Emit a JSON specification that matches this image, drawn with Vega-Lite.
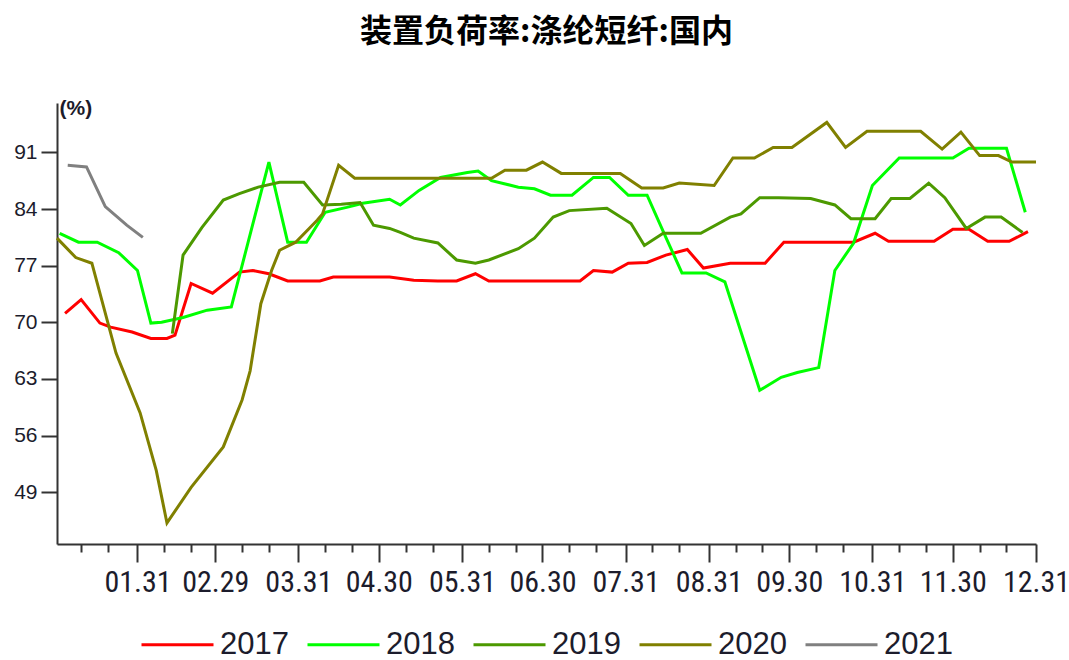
{
  "$schema": "https://vega.github.io/schema/vega-lite/v6.json",
  "width": 979,
  "height": 441,
  "autosize": "none",
  "padding": {"left": 57, "top": 103, "right": 33, "bottom": 116},
  "background": "white",
  "title": {"text": "装置负荷率:涤纶短纤:国内", "font": "Noto Sans CJK SC", "fontSize": 32, "fontWeight": "bold", "color": "#000000", "anchor": "middle", "offset": 48},
  "config": {"view": {"stroke": null}},
  "data": {"values": [
    {"date": "2017/01/04", "year": "2017", "value": 71.1},
    {"date": "2017/01/10", "year": "2017", "value": 72.8},
    {"date": "2017/01/17", "year": "2017", "value": 69.9},
    {"date": "2017/01/21", "year": "2017", "value": 69.4},
    {"date": "2017/01/29", "year": "2017", "value": 68.8},
    {"date": "2017/02/05", "year": "2017", "value": 68.0},
    {"date": "2017/02/11", "year": "2017", "value": 68.0},
    {"date": "2017/02/14", "year": "2017", "value": 68.4},
    {"date": "2017/02/20", "year": "2017", "value": 74.8},
    {"date": "2017/02/28", "year": "2017", "value": 73.6},
    {"date": "2017/03/09", "year": "2017", "value": 76.2},
    {"date": "2017/03/14", "year": "2017", "value": 76.4},
    {"date": "2017/03/20", "year": "2017", "value": 76.0},
    {"date": "2017/03/27", "year": "2017", "value": 75.1},
    {"date": "2017/04/08", "year": "2017", "value": 75.1},
    {"date": "2017/04/13", "year": "2017", "value": 75.6},
    {"date": "2017/04/30", "year": "2017", "value": 75.6},
    {"date": "2017/05/04", "year": "2017", "value": 75.6},
    {"date": "2017/05/13", "year": "2017", "value": 75.2},
    {"date": "2017/05/22", "year": "2017", "value": 75.1},
    {"date": "2017/05/29", "year": "2017", "value": 75.1},
    {"date": "2017/06/05", "year": "2017", "value": 76.0},
    {"date": "2017/06/10", "year": "2017", "value": 75.1},
    {"date": "2017/06/21", "year": "2017", "value": 75.1},
    {"date": "2017/07/03", "year": "2017", "value": 75.1},
    {"date": "2017/07/14", "year": "2017", "value": 75.1},
    {"date": "2017/07/19", "year": "2017", "value": 76.4},
    {"date": "2017/07/26", "year": "2017", "value": 76.2},
    {"date": "2017/08/01", "year": "2017", "value": 77.3},
    {"date": "2017/08/08", "year": "2017", "value": 77.4},
    {"date": "2017/08/15", "year": "2017", "value": 78.3},
    {"date": "2017/08/23", "year": "2017", "value": 79.0},
    {"date": "2017/08/29", "year": "2017", "value": 76.7},
    {"date": "2017/09/08", "year": "2017", "value": 77.3},
    {"date": "2017/09/21", "year": "2017", "value": 77.3},
    {"date": "2017/09/28", "year": "2017", "value": 79.9},
    {"date": "2017/10/24", "year": "2017", "value": 79.9},
    {"date": "2017/11/01", "year": "2017", "value": 81.0},
    {"date": "2017/11/06", "year": "2017", "value": 80.0},
    {"date": "2017/11/23", "year": "2017", "value": 80.0},
    {"date": "2017/11/30", "year": "2017", "value": 81.5},
    {"date": "2017/12/06", "year": "2017", "value": 81.5},
    {"date": "2017/12/13", "year": "2017", "value": 80.0},
    {"date": "2017/12/21", "year": "2017", "value": 80.0},
    {"date": "2017/12/28", "year": "2017", "value": 81.2},

    {"date": "2018/01/02", "year": "2018", "value": 81.0},
    {"date": "2018/01/09", "year": "2018", "value": 79.9},
    {"date": "2018/01/16", "year": "2018", "value": 79.9},
    {"date": "2018/01/24", "year": "2018", "value": 78.6},
    {"date": "2018/01/31", "year": "2018", "value": 76.4},
    {"date": "2018/02/05", "year": "2018", "value": 69.9},
    {"date": "2018/02/09", "year": "2018", "value": 70.0},
    {"date": "2018/02/17", "year": "2018", "value": 70.6},
    {"date": "2018/02/26", "year": "2018", "value": 71.5},
    {"date": "2018/03/06", "year": "2018", "value": 71.9},
    {"date": "2018/03/20", "year": "2018", "value": 89.8},
    {"date": "2018/03/27", "year": "2018", "value": 79.9},
    {"date": "2018/04/03", "year": "2018", "value": 79.9},
    {"date": "2018/04/10", "year": "2018", "value": 83.6},
    {"date": "2018/04/18", "year": "2018", "value": 84.2},
    {"date": "2018/04/24", "year": "2018", "value": 84.7},
    {"date": "2018/05/04", "year": "2018", "value": 85.2},
    {"date": "2018/05/08", "year": "2018", "value": 84.5},
    {"date": "2018/05/15", "year": "2018", "value": 86.3},
    {"date": "2018/05/23", "year": "2018", "value": 87.9},
    {"date": "2018/06/02", "year": "2018", "value": 88.5},
    {"date": "2018/06/06", "year": "2018", "value": 88.7},
    {"date": "2018/06/11", "year": "2018", "value": 87.5},
    {"date": "2018/06/21", "year": "2018", "value": 86.7},
    {"date": "2018/06/27", "year": "2018", "value": 86.5},
    {"date": "2018/07/03", "year": "2018", "value": 85.7},
    {"date": "2018/07/11", "year": "2018", "value": 85.7},
    {"date": "2018/07/19", "year": "2018", "value": 87.9},
    {"date": "2018/07/25", "year": "2018", "value": 87.9},
    {"date": "2018/08/01", "year": "2018", "value": 85.7},
    {"date": "2018/08/08", "year": "2018", "value": 85.7},
    {"date": "2018/08/15", "year": "2018", "value": 80.5},
    {"date": "2018/08/21", "year": "2018", "value": 76.1},
    {"date": "2018/08/30", "year": "2018", "value": 76.1},
    {"date": "2018/09/06", "year": "2018", "value": 75.0},
    {"date": "2018/09/19", "year": "2018", "value": 61.6},
    {"date": "2018/09/27", "year": "2018", "value": 63.2},
    {"date": "2018/10/03", "year": "2018", "value": 63.8},
    {"date": "2018/10/11", "year": "2018", "value": 64.4},
    {"date": "2018/10/17", "year": "2018", "value": 76.4},
    {"date": "2018/10/24", "year": "2018", "value": 79.8},
    {"date": "2018/10/31", "year": "2018", "value": 86.9},
    {"date": "2018/11/10", "year": "2018", "value": 90.3},
    {"date": "2018/11/30", "year": "2018", "value": 90.3},
    {"date": "2018/12/06", "year": "2018", "value": 91.5},
    {"date": "2018/12/20", "year": "2018", "value": 91.5},
    {"date": "2018/12/27", "year": "2018", "value": 83.6},

    {"date": "2019/02/13", "year": "2019", "value": 68.6},
    {"date": "2019/02/17", "year": "2019", "value": 78.3},
    {"date": "2019/02/24", "year": "2019", "value": 81.7},
    {"date": "2019/03/03", "year": "2019", "value": 85.1},
    {"date": "2019/03/09", "year": "2019", "value": 85.9},
    {"date": "2019/03/16", "year": "2019", "value": 86.7},
    {"date": "2019/03/24", "year": "2019", "value": 87.3},
    {"date": "2019/04/02", "year": "2019", "value": 87.3},
    {"date": "2019/04/09", "year": "2019", "value": 84.5},
    {"date": "2019/04/16", "year": "2019", "value": 84.6},
    {"date": "2019/04/23", "year": "2019", "value": 84.8},
    {"date": "2019/04/28", "year": "2019", "value": 82.0},
    {"date": "2019/05/04", "year": "2019", "value": 81.6},
    {"date": "2019/05/08", "year": "2019", "value": 81.1},
    {"date": "2019/05/13", "year": "2019", "value": 80.4},
    {"date": "2019/05/22", "year": "2019", "value": 79.8},
    {"date": "2019/05/29", "year": "2019", "value": 77.7},
    {"date": "2019/06/05", "year": "2019", "value": 77.3},
    {"date": "2019/06/10", "year": "2019", "value": 77.7},
    {"date": "2019/06/21", "year": "2019", "value": 79.1},
    {"date": "2019/06/27", "year": "2019", "value": 80.4},
    {"date": "2019/07/04", "year": "2019", "value": 83.0},
    {"date": "2019/07/10", "year": "2019", "value": 83.8},
    {"date": "2019/07/24", "year": "2019", "value": 84.1},
    {"date": "2019/08/02", "year": "2019", "value": 82.2},
    {"date": "2019/08/07", "year": "2019", "value": 79.5},
    {"date": "2019/08/14", "year": "2019", "value": 81.0},
    {"date": "2019/08/28", "year": "2019", "value": 81.0},
    {"date": "2019/09/08", "year": "2019", "value": 83.0},
    {"date": "2019/09/12", "year": "2019", "value": 83.4},
    {"date": "2019/09/19", "year": "2019", "value": 85.4},
    {"date": "2019/09/26", "year": "2019", "value": 85.4},
    {"date": "2019/10/08", "year": "2019", "value": 85.3},
    {"date": "2019/10/17", "year": "2019", "value": 84.5},
    {"date": "2019/10/23", "year": "2019", "value": 82.8},
    {"date": "2019/11/01", "year": "2019", "value": 82.8},
    {"date": "2019/11/07", "year": "2019", "value": 85.3},
    {"date": "2019/11/14", "year": "2019", "value": 85.3},
    {"date": "2019/11/21", "year": "2019", "value": 87.2},
    {"date": "2019/11/27", "year": "2019", "value": 85.4},
    {"date": "2019/12/05", "year": "2019", "value": 81.6},
    {"date": "2019/12/12", "year": "2019", "value": 83.0},
    {"date": "2019/12/18", "year": "2019", "value": 83.0},
    {"date": "2019/12/26", "year": "2019", "value": 81.1},

    {"date": "2020/01/01", "year": "2020", "value": 80.4},
    {"date": "2020/01/08", "year": "2020", "value": 78.0},
    {"date": "2020/01/14", "year": "2020", "value": 77.3},
    {"date": "2020/01/23", "year": "2020", "value": 66.2},
    {"date": "2020/02/01", "year": "2020", "value": 58.8},
    {"date": "2020/02/07", "year": "2020", "value": 51.7},
    {"date": "2020/02/11", "year": "2020", "value": 45.2},
    {"date": "2020/02/20", "year": "2020", "value": 49.6},
    {"date": "2020/03/03", "year": "2020", "value": 54.6},
    {"date": "2020/03/10", "year": "2020", "value": 60.4},
    {"date": "2020/03/13", "year": "2020", "value": 64.0},
    {"date": "2020/03/17", "year": "2020", "value": 72.3},
    {"date": "2020/03/21", "year": "2020", "value": 76.4},
    {"date": "2020/03/24", "year": "2020", "value": 78.9},
    {"date": "2020/03/30", "year": "2020", "value": 79.9},
    {"date": "2020/04/07", "year": "2020", "value": 82.6},
    {"date": "2020/04/09", "year": "2020", "value": 83.4},
    {"date": "2020/04/15", "year": "2020", "value": 89.4},
    {"date": "2020/04/21", "year": "2020", "value": 87.8},
    {"date": "2020/05/15", "year": "2020", "value": 87.8},
    {"date": "2020/06/11", "year": "2020", "value": 87.8},
    {"date": "2020/06/16", "year": "2020", "value": 88.8},
    {"date": "2020/06/24", "year": "2020", "value": 88.8},
    {"date": "2020/06/30", "year": "2020", "value": 89.8},
    {"date": "2020/07/07", "year": "2020", "value": 88.4},
    {"date": "2020/07/29", "year": "2020", "value": 88.4},
    {"date": "2020/08/06", "year": "2020", "value": 86.6},
    {"date": "2020/08/14", "year": "2020", "value": 86.6},
    {"date": "2020/08/20", "year": "2020", "value": 87.2},
    {"date": "2020/09/02", "year": "2020", "value": 86.9},
    {"date": "2020/09/09", "year": "2020", "value": 90.3},
    {"date": "2020/09/17", "year": "2020", "value": 90.3},
    {"date": "2020/09/24", "year": "2020", "value": 91.6},
    {"date": "2020/10/01", "year": "2020", "value": 91.6},
    {"date": "2020/10/14", "year": "2020", "value": 94.7},
    {"date": "2020/10/21", "year": "2020", "value": 91.6},
    {"date": "2020/10/29", "year": "2020", "value": 93.6},
    {"date": "2020/11/18", "year": "2020", "value": 93.6},
    {"date": "2020/11/26", "year": "2020", "value": 91.4},
    {"date": "2020/12/03", "year": "2020", "value": 93.5},
    {"date": "2020/12/10", "year": "2020", "value": 90.6},
    {"date": "2020/12/17", "year": "2020", "value": 90.6},
    {"date": "2020/12/22", "year": "2020", "value": 89.8},
    {"date": "2020/12/31", "year": "2020", "value": 89.8},

    {"date": "2021/01/05", "year": "2021", "value": 89.4},
    {"date": "2021/01/12", "year": "2021", "value": 89.2},
    {"date": "2021/01/19", "year": "2021", "value": 84.3},
    {"date": "2021/01/27", "year": "2021", "value": 82.0},
    {"date": "2021/02/02", "year": "2021", "value": 80.5}
  ]},
  "mark": {"type": "line", "strokeWidth": 3},
  "encoding": {
    "x": {
      "field": "date", "type": "temporal", "timeUnit": "monthdate",
      "scale": {"domain": [{"month": 1, "date": 1}, {"month": 12, "date": 31}]},
      "axis": {
        "title": null, "grid": false,
        "values": [
          {"month": 1, "date": 10}, {"month": 1, "date": 20}, {"month": 1, "date": 31},
          {"month": 2, "date": 10}, {"month": 2, "date": 20}, {"month": 2, "date": 29},
          {"month": 3, "date": 10}, {"month": 3, "date": 20}, {"month": 3, "date": 31},
          {"month": 4, "date": 10}, {"month": 4, "date": 20}, {"month": 4, "date": 30},
          {"month": 5, "date": 10}, {"month": 5, "date": 20}, {"month": 5, "date": 31},
          {"month": 6, "date": 10}, {"month": 6, "date": 20}, {"month": 6, "date": 30},
          {"month": 7, "date": 10}, {"month": 7, "date": 20}, {"month": 7, "date": 31},
          {"month": 8, "date": 10}, {"month": 8, "date": 20}, {"month": 8, "date": 31},
          {"month": 9, "date": 10}, {"month": 9, "date": 20}, {"month": 9, "date": 30},
          {"month": 10, "date": 10}, {"month": 10, "date": 20}, {"month": 10, "date": 31},
          {"month": 11, "date": 10}, {"month": 11, "date": 20}, {"month": 11, "date": 30},
          {"month": 12, "date": 10}, {"month": 12, "date": 20}, {"month": 12, "date": 31}
        ],
        "labelExpr": "(date(datum.value) == 10 || date(datum.value) == 20) ? '' : timeFormat(datum.value, '%m.%d')",
        "tickSize": {"condition": {"test": "date(datum.value) == 10 || date(datum.value) == 20", "value": 8}, "value": 18},
        "labelOverlap": false,
        "labelFlush": false,
        "labelFont": "Liberation Sans Narrow, Roboto Condensed, DejaVu Sans Condensed, Liberation Sans",
        "labelFontSize": 30,
        "labelColor": "#1c1c2c",
        "labelPadding": 5,
        "domainColor": "#333333",
        "domainWidth": 2,
        "tickColor": "#333333",
        "tickWidth": 2
      }
    },
    "y": {
      "field": "value", "type": "quantitative",
      "scale": {"domain": [42.6, 97.1], "nice": false, "zero": false},
      "axis": {
        "values": [49, 56, 63, 70, 77, 84, 91],
        "grid": false,
        "title": "(%)",
        "titleAngle": 0,
        "titleX": 2,
        "titleY": 5,
        "titleAlign": "left",
        "titleBaseline": "middle",
        "titleFont": "Liberation Sans",
        "titleFontSize": 21,
        "titleFontWeight": "bold",
        "titleColor": "#1c1c2c",
        "labelFont": "Liberation Sans",
        "labelFontSize": 21,
        "labelColor": "#1c1c2c",
        "labelPadding": 4,
        "tickSize": 16,
        "tickWidth": 2,
        "tickColor": "#333333",
        "domainColor": "#333333",
        "domainWidth": 2
      }
    },
    "color": {
      "field": "year", "type": "nominal",
      "scale": {"domain": ["2017", "2018", "2019", "2020", "2021"], "range": ["#ff0000", "#00ff00", "#4c9900", "#808000", "#808080"]},
      "legend": {
        "title": null,
        "orient": "none",
        "direction": "horizontal",
        "legendX": 83,
        "legendY": 504,
        "symbolType": "stroke",
        "symbolSize": 5184,
        "symbolStrokeWidth": 3,
        "labelFont": "Liberation Sans",
        "labelFontSize": 31,
        "labelColor": "#1c1c2c",
        "labelOffset": 5,
        "columnPadding": 12,
        "labelLimit": 200
      }
    }
  }
}
